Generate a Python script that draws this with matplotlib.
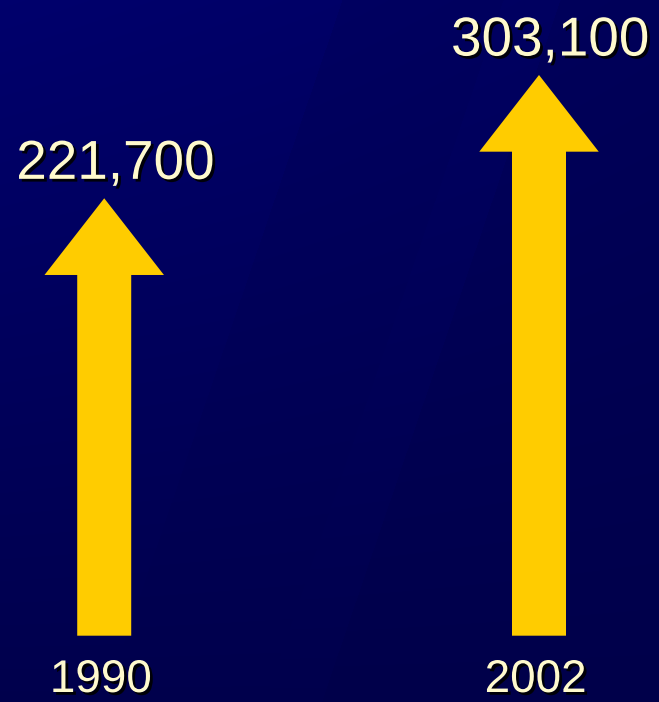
import numpy as np
import matplotlib.pyplot as plt
from matplotlib import patheffects as pe

years = ["1990", "2002"]
values = [221700, 303100]
value_labels = ["221,700", "303,100"]

arrow_color = "#FFCC00"
text_color = "#FFFACD"

fig = plt.figure(figsize=(6.59, 7.02), dpi=100)
ax = fig.add_axes([0, 0, 1, 1])

# background: navy gradient with faint diagonal bands
h, w = 702, 659
yy, xx = np.mgrid[0:h, 0:w]
u = xx + 0.34 * yy
blue = 0.30 + 0.10 * (1 - yy / h) * (1 - 0.4 * xx / w)
blue += 0.025 * (u < 342) * (1 - yy / h)
blue += 0.012 * ((u > 503) & (u < 560)) * (1 - yy / h)
blue -= 0.01 * (u > 560)
bg = np.zeros((h, w, 3))
bg[..., 2] = np.clip(blue, 0, 1)
ax.imshow(bg, extent=[0, 1, 0, 1], transform=ax.transAxes, aspect="auto", zorder=0)

ax.set_xlim(-0.2397, 1.276)
ax.set_ylim(-110850, 352600)
ax.axis("off")

base = -67080
shadow = [pe.SimplePatchShadow(offset=(2, -2), shadow_rgbFace="black", alpha=0.9),
          pe.Normal()]

for i, (yr, v, lab) in enumerate(zip(years, values, value_labels)):
    ax.arrow(i, base, 0, v - base, width=0.1242, head_width=0.2748,
             head_length=50640, length_includes_head=True,
             color=arrow_color, lw=0, zorder=2)
    ax.annotate(lab, (i, v), xytext=(8, 14), textcoords="offset points",
                ha="center", va="baseline", fontsize=39.5, color=text_color,
                family="Liberation Sans", path_effects=shadow, zorder=3)
    ax.text(i - 0.008, 0.0, yr, transform=ax.get_xaxis_transform(),
            ha="center", va="bottom", fontsize=33, color=text_color,
            family="Liberation Sans", path_effects=shadow, zorder=3)

fig.savefig("out.png", dpi=100)
